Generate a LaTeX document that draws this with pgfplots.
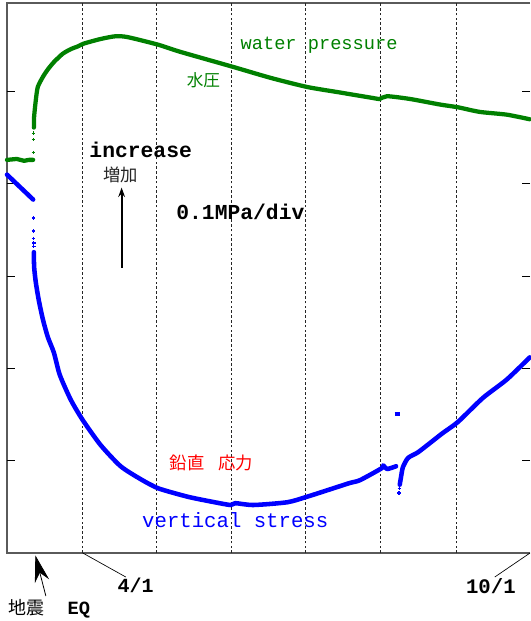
\documentclass[border=0pt]{standalone}
\usepackage{pgfplots}
\pgfplotsset{compat=1.18}
\usetikzlibrary{arrows.meta}
\usepackage{fontspec}
\setmainfont{Liberation Mono}
\newfontfamily\jp{Noto Sans CJK JP}
\definecolor{wp}{RGB}{0,128,0}
\definecolor{vs}{RGB}{0,0,255}
\definecolor{frame}{RGB}{90,90,90}

\begin{document}
\begin{tikzpicture}
\begin{axis}[
  scale only axis,
  width=392.25pt, height=412.5pt,
  xmin=-31, xmax=183,
  ymin=0, ymax=0.596,
  axis line style={draw=none},
  xtick=\empty, ytick=\empty,
  clip=false,
]
% frame: left, top and bottom only
\draw[frame, line width=1.1pt] (rel axis cs:1,1) -- (rel axis cs:0,1) -- (rel axis cs:0,0) -- (rel axis cs:1,0);
% 0.1 MPa divisions
\pgfplotsinvokeforeach{0.1,0.2,0.3,0.4,0.5}{
  \draw[black, line width=0.8pt] (axis cs:-31,#1) -- ([xshift=6pt]axis cs:-31,#1);
  \draw[black, line width=0.8pt] (axis cs:183,#1) -- ([xshift=-6pt]axis cs:183,#1);
}
% month boundaries
\pgfplotsinvokeforeach{0,30,61,91,122,153}{
  \draw[black!85, line width=0.75pt, dash pattern=on 2pt off 1.6pt] (axis cs:#1,0) -- (axis cs:#1,0.596);
}

% water pressure
\addplot[wp, line width=3.2pt, line join=round, line cap=round] coordinates {
(-31,0.426) (-27,0.427) (-24,0.425) (-22,0.426) (-20.3,0.426)};
\addplot[wp, only marks, mark=+, mark size=1.3pt, mark options={line width=0.9pt}] coordinates {
(-20.2,0.434) (-20.2,0.448) (-20.2,0.455)};
\addplot[wp, line width=3.2pt, line join=round, line cap=round, smooth, tension=0.4] coordinates {
(-20.0,0.461) (-19.9,0.473) (-19.2,0.491) (-18.4,0.505) (-16.3,0.516) (-14.3,0.524)
(-11.8,0.532) (-8.2,0.541) (-4.9,0.546) (-2.0,0.549) (0.4,0.552) (7.3,0.557)
(13.5,0.560) (18.4,0.559) (30.6,0.551) (40.0,0.543) (61.2,0.527) (76.7,0.515)
(91.8,0.505) (105.3,0.499) (118.8,0.493) (121.5,0.492) (124.5,0.495) (133.9,0.492)
(146.1,0.486) (153.5,0.483) (162.4,0.478) (173.5,0.475) (182.9,0.470)};

% vertical stress
\addplot[vs, line width=3.4pt, line join=round, line cap=round] coordinates {
(-31,0.410) (-20.3,0.383)};
\addplot[vs, only marks, mark=+, mark size=1.3pt, mark options={line width=0.9pt}] coordinates {
(-20.2,0.363) (-20.2,0.349) (-20.2,0.341) (-20.0,0.336) (-20.0,0.332)};
\addplot[vs, line width=3.4pt, line join=round, line cap=round, smooth, tension=0.4] coordinates {
(-20.0,0.326) (-19.9,0.310) (-19.2,0.293) (-18.0,0.274) (-16.3,0.253) (-14.3,0.234)
(-11.8,0.217) (-9.4,0.193) (-4.9,0.166) (0,0.144) (7.3,0.117) (15.5,0.094)
(23.7,0.080) (31.0,0.070) (42.9,0.061) (52,0.056) (60.4,0.052) (62.4,0.054)
(69.8,0.052) (83.7,0.055) (91.8,0.061) (102.4,0.070) (109.4,0.076) (113.5,0.079)
(122.4,0.092) (122.9,0.095) (124.5,0.091) (128.2,0.094)};
\addplot[vs, line width=3pt] coordinates {(127.6,0.151) (130.0,0.151)};
\addplot[vs, only marks, mark=+, mark size=1.3pt, mark options={line width=0.9pt}] coordinates {
(129.4,0.065) (129.5,0.070)};
\addplot[vs, line width=3.4pt, line join=round, line cap=round, smooth, tension=0.4] coordinates {
(129.7,0.074) (130.2,0.082) (131.0,0.093) (133.1,0.103) (137.1,0.109) (142.0,0.119)
(147.3,0.130) (153.5,0.142) (163.7,0.168) (173.5,0.188) (182.9,0.212)};

% labels
\node[wp, font=\fontsize{14}{14}\selectfont] at (axis cs:96.7,0.550) {water pressure};
\node[wp, font=\jp\fontsize{12.5}{12.5}\selectfont] at (axis cs:49.4,0.512) {水圧};
\node[black, anchor=base, font=\bfseries\fontsize{16}{16}\selectfont] at (axis cs:23.7,0.429) {increase};
\node[black!85, font=\jp\fontsize{13}{13}\selectfont] at (axis cs:15.5,0.410) {増加};
\draw[black, line width=1.5pt, -{Stealth[length=7pt,width=5pt]}] (axis cs:15.9,0.309) -- (axis cs:15.9,0.396);
\node[black, anchor=base, font=\bfseries\fontsize{16}{16}\selectfont] at (axis cs:64.5,0.361) {0.1MPa/div};
\node[red, font=\jp\fontsize{13}{13}\selectfont] at (axis cs:52.7,0.0976) {鉛直\hspace{0.8em}応力};
\node[vs, anchor=base, font=\fontsize{15.5}{15.5}\selectfont] at (axis cs:62.4,0.028) {vertical stress};

% below the axis
\draw[black, line width=0.5pt] (axis cs:0,0) -- (axis cs:17.6,-0.026);
\node[black, anchor=base, font=\bfseries\fontsize{15}{15}\selectfont] at (axis cs:21.6,-0.0423) {4/1};
\draw[black, line width=0.5pt] (axis cs:183,0) -- (axis cs:168.6,-0.026);
\node[black, anchor=base, font=\bfseries\fontsize{15.5}{15.5}\selectfont] at (axis cs:167,-0.0434) {10/1};
\draw[black, line width=0.6pt, -{Stealth[length=20pt,width=11pt]}] (axis cs:-15.1,-0.0466) -- (axis cs:-19.4,-0.0025);
\node[black, font=\jp\fontsize{13.5}{13.5}\selectfont] at (axis cs:-22.9,-0.0596) {地震};
\node[black, font=\bfseries\fontsize{14}{14}\selectfont] at (axis cs:-1.6,-0.062) {EQ};

\coordinate (bl) at (rel axis cs:0,0);
\coordinate (tr) at (rel axis cs:1,1);
\end{axis}
\path (bl) ++(-5.25pt,-51pt) coordinate (a);
\path (tr) ++(0pt,2.25pt) coordinate (b);
\pgfresetboundingbox
\path (a) rectangle (b);
\end{tikzpicture}
\end{document}
